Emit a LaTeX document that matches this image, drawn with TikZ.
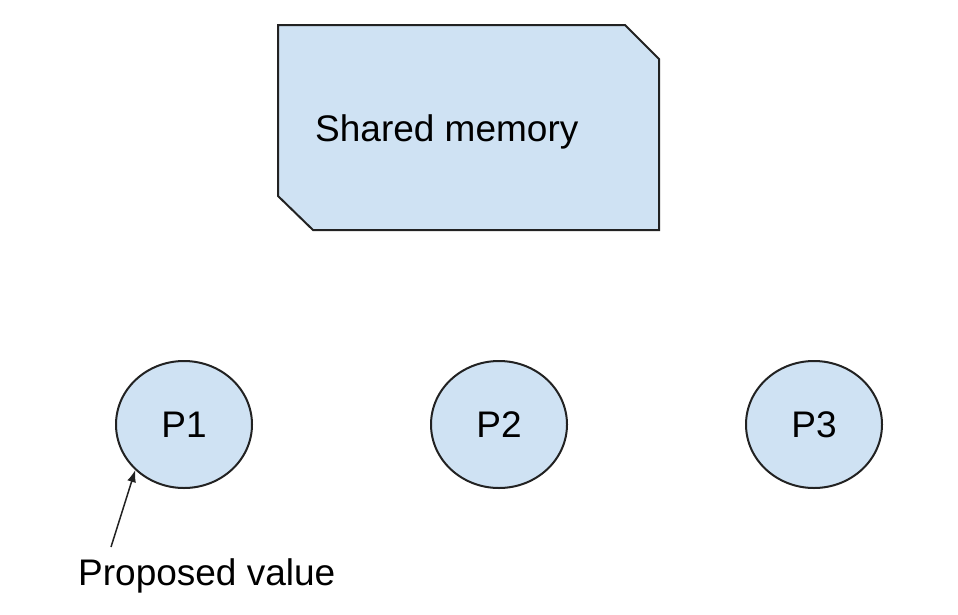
\documentclass[tikz,border=0pt]{standalone}
\usepackage{fontspec}
\setmainfont{Liberation Sans}
\usetikzlibrary{
    positioning,
    shapes.geometric,
    arrows.meta,
}
\definecolor{memblue}{HTML}{CFE2F3}
\definecolor{edge}{HTML}{222222}

\begin{document}
\begin{tikzpicture}[
    x=1pt, y=-1pt,
    node distance=177pt,
    memory/.style={draw=edge, fill=memblue, line width=2pt},
    proc/.style={draw=edge, fill=memblue, line width=2pt, ellipse, inner sep=0pt,
                minimum width=136pt, minimum height=127pt, font=\fontsize{37}{44}\selectfont},
    textbox/.style={inner sep=0pt, font=\fontsize{37}{44}\selectfont},
]
\useasboundingbox (0,0) rectangle (958,614);

% Shared memory
\draw[memory] (278,25) -- (625,25) -- (659,59) -- (659,230) -- (313,230) -- (278,196) -- cycle;
\node[textbox, anchor=base west] at (315,141) (Memory) {Shared memory};

% Processes
\node[proc] at (184,424.5) (P1) {P1};
\node[proc] (P2) [right=of P1] {P2};
\node[proc] (P3) [right=of P2] {P3};

% Proposed value
\node[textbox, anchor=base west] at (78,585) (Proposed) {Proposed value};

% Lines
\draw[-{Latex[length=12pt,width=9pt]}, line width=1.5pt, edge] ([xshift=33pt,yshift=11pt]Proposed.north west) -- (P1.south west);

\end{tikzpicture}
\end{document}
